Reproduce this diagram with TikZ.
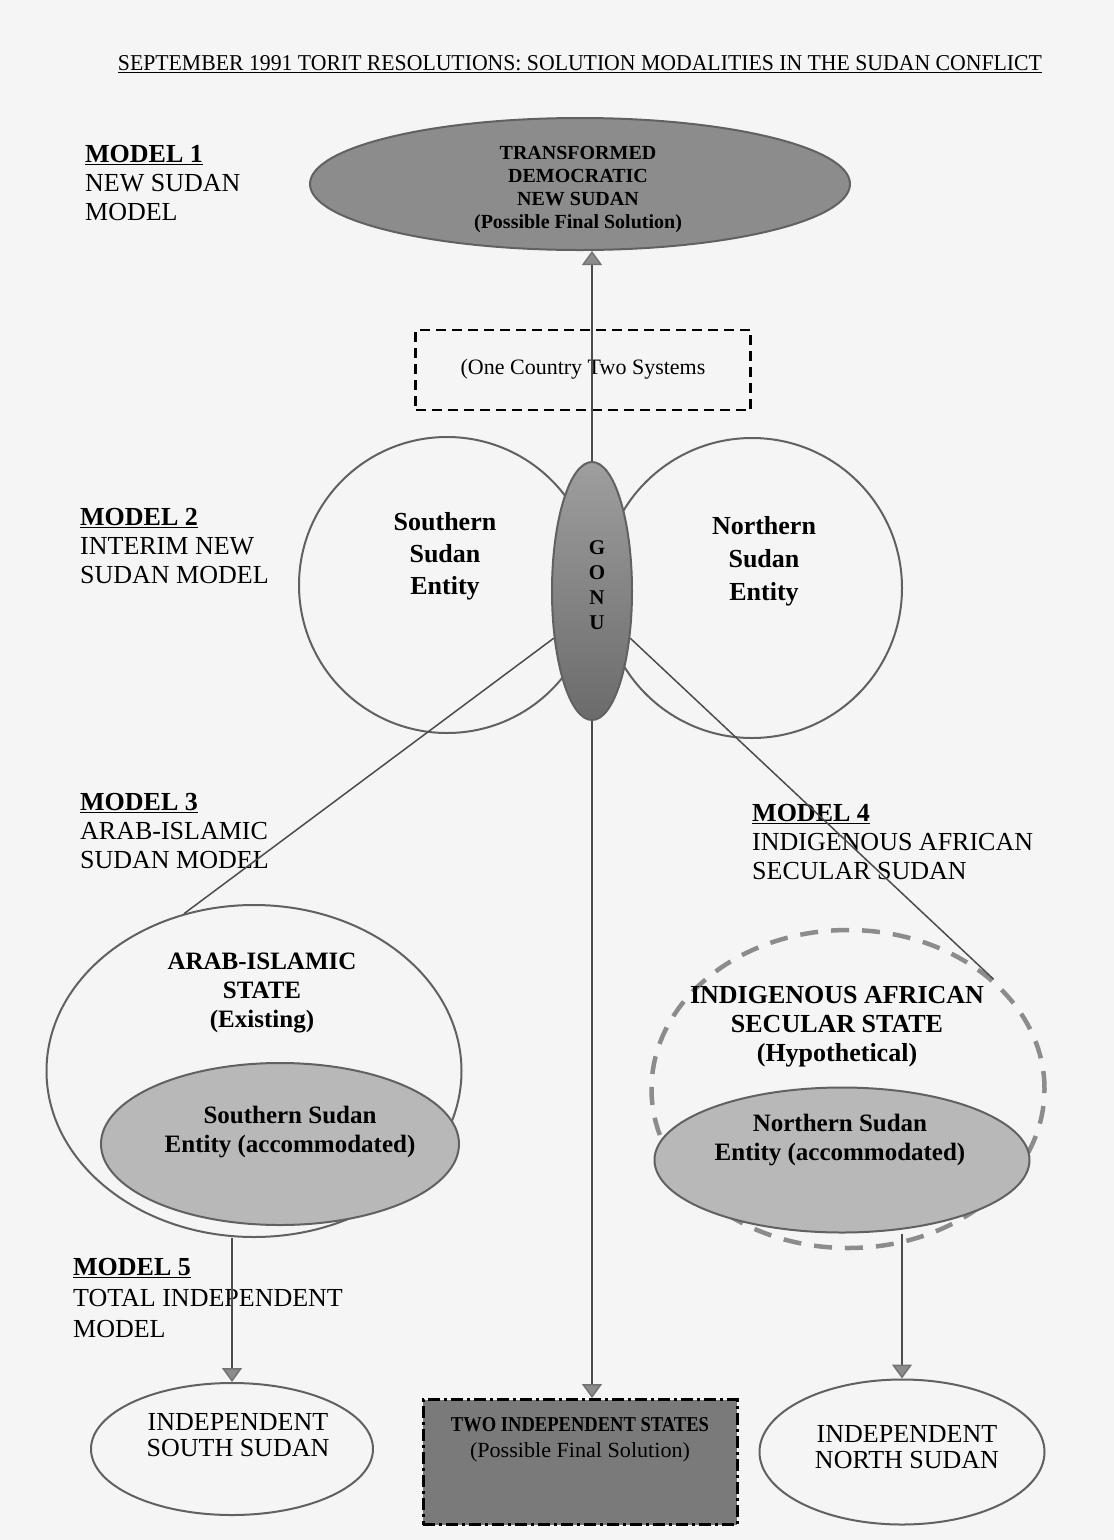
\documentclass[tikz,border=0pt]{standalone}
\usepackage{fontspec}
\setmainfont{Liberation Serif}
\usepackage{graphicx}
\usetikzlibrary{arrows.meta}
\usetikzlibrary{shapes.geometric}

\begin{document}
\begin{tikzpicture}[x=1pt, y=-1pt,
    outline/.style={draw=black!62, line width=2pt},
    oval/.style={ellipse, outline, inner sep=0pt},
    ovaltext/.style={font=\bfseries\fontsize{25}{29}\selectfont, align=center, inner sep=0pt},
    modeltext/.style={font=\fontsize{26}{29}\selectfont, align=left, anchor=north west, inner sep=0pt},
    linkline/.style={draw=black!70, line width=1.5pt},
    arrowline/.style={linkline, -{Triangle[width=20pt,length=14pt,fill=black!45,color=black!55]}}]

    % page
    \fill[black!4] (0,0) rectangle (1114,1540);
    \useasboundingbox (0,0) rectangle (1114,1540);

    % title
    \node[anchor=base, inner sep=0pt] (title) at (580,70) {\underline{\resizebox{924pt}{15pt}{SEPTEMBER 1991 TORIT RESOLUTIONS: SOLUTION MODALITIES IN THE SUDAN CONFLICT}}};

    % model labels
    \node[modeltext] (m1) at (85,145) {\underline{\textbf{MODEL 1}}\\NEW SUDAN\\MODEL};
    \node[modeltext] (m2) at (80,508) {\underline{\textbf{MODEL 2}}\\INTERIM NEW\\SUDAN MODEL};
    \node[modeltext] (m3) at (80,793) {\underline{\textbf{MODEL 3}}\\ARAB-ISLAMIC\\SUDAN MODEL};
    \node[modeltext] (m4) at (752,804) {\underline{\textbf{MODEL 4}}\\INDIGENOUS AFRICAN\\SECULAR SUDAN};
    \node[modeltext, font=\fontsize{26}{31}\selectfont] (m5) at (73,1258) {\underline{\textbf{MODEL 5}}\\TOTAL INDEPENDENT\\MODEL};

    % model 1
    \node[oval, fill=black!45, minimum width=540pt, minimum height=132pt] (tds) at (580,184) {};
    \node[ovaltext, font=\bfseries\fontsize{20}{23}\selectfont] (tdstext) at (578,190) {TRANSFORMED\\DEMOCRATIC\\NEW SUDAN\\(Possible Final Solution)};

    % model 2
    \node[draw, line width=2.5pt, dash pattern=on 10pt off 6pt, minimum width=335pt, minimum height=80pt] (octs) at (583,370) {};
    \node[font=\fontsize{22}{24}\selectfont, inner sep=0pt] (octstext) at (583,369) {(One Country Two Systems};
    \node[oval, minimum width=296pt, minimum height=296pt] (south) at (447,585) {};
    \node[oval, minimum width=300pt, minimum height=300pt] (north) at (752,588) {};
    \node[oval, top color=black!38, bottom color=black!58, minimum width=80pt, minimum height=258pt] (gonu) at (592,591) {};
    \node[ovaltext, font=\bfseries\fontsize{21}{25}\selectfont] (gonutext) at (597,585) {G\\O\\N\\U};
    \node[ovaltext, font=\bfseries\fontsize{26}{32}\selectfont] (southtext) at (445,556) {Southern\\Sudan\\Entity};
    \node[ovaltext, font=\bfseries\fontsize{26}{33}\selectfont] (northtext) at (764,561) {Northern\\Sudan\\Entity};

    % model 3
    \node[oval, minimum width=415pt, minimum height=332pt] (arab) at (254,1071) {};
    \node[oval, fill=black!28, minimum width=358pt, minimum height=162pt] (southacc) at (280,1144) {};
    \node[ovaltext] (arabtext) at (262,993) {ARAB-ISLAMIC\\STATE\\(Existing)};
    \node[ovaltext] (southacctext) at (290,1132) {Southern Sudan\\Entity (accommodated)};

    % model 4
    \node[ellipse, draw=black!45, line width=4.5pt, dash pattern=on 18pt off 13pt, inner sep=0pt, minimum width=393pt, minimum height=318pt] (indig) at (848,1089) {};
    \node[oval, fill=black!28, minimum width=375pt, minimum height=145pt] (northacc) at (842,1160) {};
    \node[ovaltext, font=\bfseries\fontsize{26}{29}\selectfont] (indigtext) at (837,1027) {INDIGENOUS AFRICAN\\SECULAR STATE\\(Hypothetical)};
    \node[ovaltext] (northacctext) at (840,1140) {Northern Sudan\\Entity (accommodated)};

    % model 5
    \node[oval, minimum width=282pt, minimum height=132pt] (indsouth) at (232,1449) {};
    \node[draw=black, line width=3pt, dash pattern=on 12pt off 4pt on 3pt off 4pt, fill=black!52, minimum width=314pt, minimum height=125pt] (twostates) at (580,1462) {};
    \node[oval, minimum width=285pt, minimum height=145pt] (indnorth) at (902,1452) {};
    \node[ovaltext, font=\fontsize{26}{26}\selectfont] (indsouthtext) at (238,1435) {INDEPENDENT\\SOUTH SUDAN};
    \node[ovaltext, font=\fontsize{21}{26}\selectfont] (twotext) at (580,1440) {\resizebox{258pt}{14pt}{\textbf{TWO INDEPENDENT STATES}}\\\resizebox{220pt}{15pt}{(Possible Final Solution)}};
    \node[ovaltext, font=\fontsize{26}{26}\selectfont] (indnorthtext) at (907,1447) {INDEPENDENT\\NORTH SUDAN};

    % links
    \draw[arrowline] (gonu.north) -- (gonu.north |- tds.south);
    \draw[arrowline] (gonu.south) -- (gonu.south |- twostates.north);
    \draw[linkline] (gonu.231) -- (arab.114);
    \draw[linkline] (gonu.309) -- (indig.37);
    \draw[arrowline] (arab.south -| indsouth.north) -- (indsouth.north);
    \draw[arrowline] (northacc.south -| indnorth.north) -- (indnorth.north);
\end{tikzpicture}
\end{document}
